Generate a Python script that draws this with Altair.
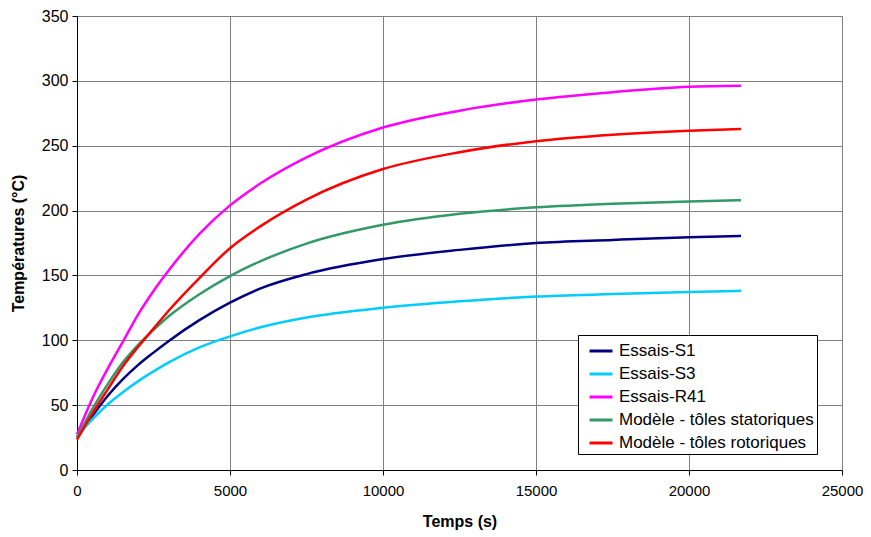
import altair as alt
import pandas as pd

# Time (s)
temps = [0, 500, 1000, 1500, 2000, 2500, 3000, 4000, 5000, 6000, 7500,
         10000, 12500, 15000, 17500, 20000, 21700]

series_names = ["Essais-S1", "Essais-S3", "Essais-R41",
                "Modèle - tôles statoriques", "Modèle - tôles rotoriques"]
series_colors = ["#000080", "#00CCFF", "#FF00FF", "#339966", "#FF0000"]

essais_s1 = [25, 41.5, 57, 70, 81, 90.5, 99.5, 115.5, 129, 140, 151,
             162.6, 169.7, 175, 177.4, 179.5, 180.5]
essais_s3 = [26, 39, 50.5, 60, 68.5, 76, 83, 94.5, 103, 110, 117.5,
             125, 130, 133.7, 135.6, 137.2, 138.2]
essais_r41 = [27.5, 55, 78, 99, 120, 138, 154, 182, 204, 221, 241,
              264, 277, 285.6, 291.3, 295.4, 296.2]
modele_stat = [25, 47, 66, 83, 96.5, 108, 118.5, 135.5, 149.5, 161, 174.5,
               189, 197.5, 202.5, 205.3, 207, 208]
modele_rot = [23.5, 43.5, 62, 80, 95, 109, 123, 148, 171, 188, 208.5,
              232, 245, 253.5, 258.5, 261.5, 262.8]

values = [essais_s1, essais_s3, essais_r41, modele_stat, modele_rot]

rows = []
for name, vals in zip(series_names, values):
    for t, v in zip(temps, vals):
        rows.append({"Temps": t, "Temperature": v, "Serie": name})
df = pd.DataFrame(rows)

FONT = "Liberation Sans"

chart = alt.Chart(df).mark_line(strokeWidth=2.5, interpolate="monotone").encode(
    x=alt.X("Temps:Q",
            scale=alt.Scale(domain=[0, 25000], nice=False),
            axis=alt.Axis(values=[0, 5000, 10000, 15000, 20000, 25000],
                          format="d", title="Temps (s)",
                          labelFlush=False, labelFontSize=15,
                          titlePadding=15)),
    y=alt.Y("Temperature:Q",
            scale=alt.Scale(domain=[0, 350], nice=False),
            axis=alt.Axis(values=[0, 50, 100, 150, 200, 250, 300, 350],
                          title="Températures (°C)", titlePadding=15,
                          labelFlush=False)),
    color=alt.Color("Serie:N",
                    scale=alt.Scale(domain=series_names, range=series_colors),
                    sort=series_names,
                    legend=alt.Legend(title=None, orient="none",
                                      legendX=501, legendY=319,
                                      symbolType="stroke",
                                      symbolSize=529,
                                      symbolStrokeWidth=3,
                                      symbolOffset=7,
                                      labelFontSize=17,
                                      labelFont=FONT,
                                      labelColor="#000000",
                                      labelLimit=400,
                                      labelOffset=5,
                                      rowPadding=2,
                                      padding=3,
                                      strokeColor="#000000",
                                      fillColor="#FFFFFF")),
    order=alt.Order("Temps:Q"),
    detail="Serie:N",
).properties(
    width=765,
    height=454,
    autosize=alt.AutoSizeParams(type="none"),
    padding={"left": 69, "top": 8, "right": 21, "bottom": 60},
).configure_view(
    stroke="#808080", strokeWidth=1
).configure_axis(
    labelFont=FONT, labelFontSize=16, labelColor="#000000",
    titleFont=FONT, titleFontSize=16, titleFontWeight="bold",
    titleColor="#000000",
    domainColor="#000000", domainWidth=1,
    tickColor="#000000", tickSize=5, tickWidth=1,
    gridColor="#808080", gridWidth=1, gridOpacity=1,
    labelPadding=4,
).configure_axisX(
    labelPadding=8,
)

chart.save("out.html", embed_options={"renderer": "svg", "actions": False})
